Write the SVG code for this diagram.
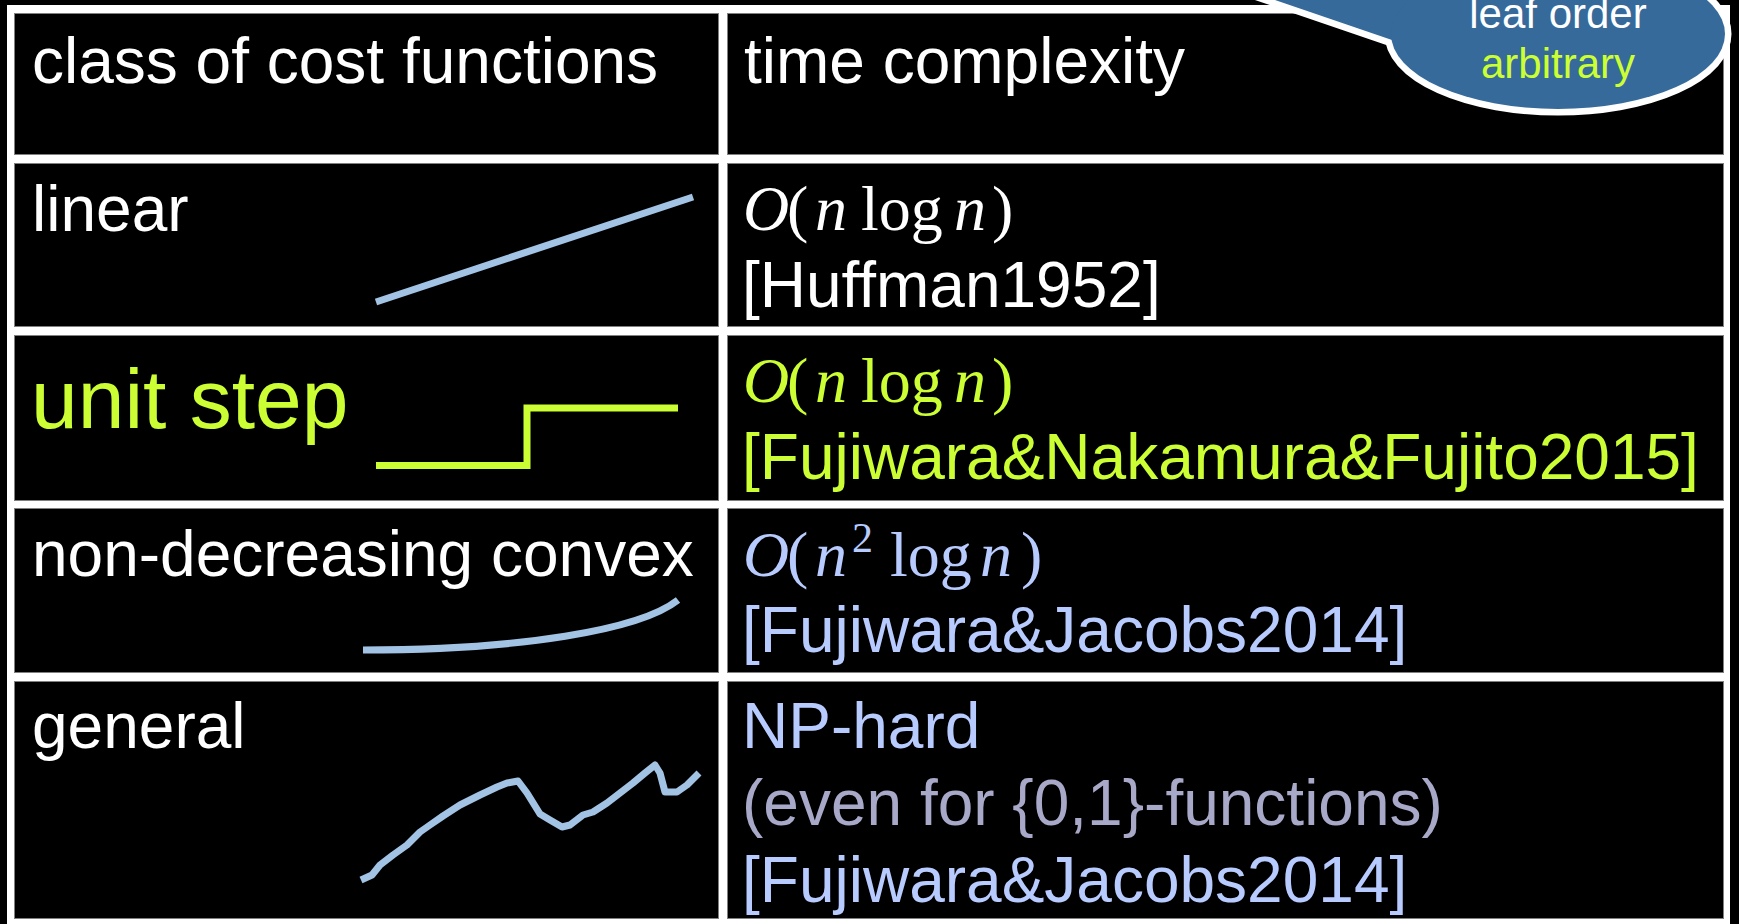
<svg xmlns="http://www.w3.org/2000/svg" width="1739" height="924" viewBox="0 0 1739 924">
  <style>
    .t{font-family:"Liberation Sans",Arial,sans-serif;font-size:64px}
    .m{font-family:"Liberation Serif","DejaVu Serif",serif;font-size:64px}
    .sup{font-family:"Liberation Serif","DejaVu Serif",serif;font-size:42px}
    .c{font-family:"Liberation Sans",Arial,sans-serif;font-size:42px;text-anchor:middle}
    .i{font-style:italic}
    .w{fill:#ffffff}
    .y{fill:#ccff33}
    .b{fill:#b8cbff}
    .g{fill:#a8a8c8}
    .cell{fill:#000000;stroke:#808080;stroke-width:1}
    .curve{fill:none;stroke:#a2c3e3;stroke-width:7;stroke-linejoin:round}
    .step{fill:none;stroke:#ccff33;stroke-width:7}
  </style>

  <!-- page background and table frame (white grid lines show between cells) -->
  <rect x="0" y="0" width="1739" height="924" fill="#000000"/>
  <rect x="7" y="5" width="1723" height="922" fill="#ffffff"/>

  <!-- header row -->
  <g id="head-class">
    <rect class="cell" x="14.5" y="13.5" width="704" height="141"/>
    <text class="t w" x="32" y="83">class of cost functions</text>
  </g>
  <g id="head-time">
    <rect class="cell" x="727.5" y="13.5" width="996" height="141"/>
    <text class="t w" x="744" y="83">time complexity</text>
  </g>

  <!-- linear -->
  <g id="row-linear">
    <rect class="cell" x="14.5" y="163.5" width="704" height="163"/>
    <text class="t w" x="32" y="231">linear</text>
    <line class="curve" x1="376" y1="302" x2="693" y2="197"/>
  </g>
  <g id="cx-linear">
    <rect class="cell" x="727.5" y="163.5" width="996" height="163"/>
    <text class="m w" y="230"><tspan class="i" x="743">O</tspan><tspan x="787">(</tspan><tspan class="i" x="815">n</tspan><tspan x="861">log</tspan><tspan class="i" x="954">n</tspan><tspan x="992">)</tspan></text>
    <text class="t w" x="742" y="307">[Huffman1952]</text>
  </g>

  <!-- unit step -->
  <g id="row-step">
    <rect class="cell" x="14.5" y="335.5" width="704" height="165"/>
    <text class="t y" x="31" y="428" style="font-size:84px">unit step</text>
    <polyline class="step" points="376,465.5 527,465.5 527,408 678,408"/>
  </g>
  <g id="cx-step">
    <rect class="cell" x="727.5" y="335.5" width="996" height="165"/>
    <text class="m y" y="402"><tspan class="i" x="743">O</tspan><tspan x="787">(</tspan><tspan class="i" x="815">n</tspan><tspan x="861">log</tspan><tspan class="i" x="954">n</tspan><tspan x="992">)</tspan></text>
    <text class="t y" x="742" y="479">[Fujiwara&amp;Nakamura&amp;Fujito2015]</text>
  </g>

  <!-- non-decreasing convex -->
  <g id="row-convex">
    <rect class="cell" x="14.5" y="508.5" width="704" height="164"/>
    <text class="t w" x="32" y="576">non-decreasing convex</text>
    <path class="curve" d="M363,650 C520,650 640,630 678,600"/>
  </g>
  <g id="cx-convex">
    <rect class="cell" x="727.5" y="508.5" width="996" height="164"/>
    <text class="m b" y="576"><tspan class="i" x="743">O</tspan><tspan x="787">(</tspan><tspan class="i" x="815">n</tspan><tspan class="sup" x="852" dy="-24">2</tspan><tspan x="890" dy="24">log</tspan><tspan class="i" x="980">n</tspan><tspan x="1021">)</tspan></text>
    <text class="t b" x="742" y="652">[Fujiwara&amp;Jacobs2014]</text>
  </g>

  <!-- general -->
  <g id="row-general">
    <rect class="cell" x="14.5" y="681.5" width="704" height="237"/>
    <text class="t w" x="32" y="748">general</text>
    <polyline class="curve" points="361,880 372,875 380,865 393,855 407,845 420,832 430,825 443,816 460,805 480,795 497,787 507,783 518,781 527,793 540,814 550,820 562,827 570,825 583,815 593,812 607,803 620,793 633,783 645,773 655,765 660,773 665,792 677,792 687,785 699,773"/>
  </g>
  <g id="cx-general">
    <rect class="cell" x="727.5" y="681.5" width="996" height="237"/>
    <text class="t b" x="742" y="748">NP-hard</text>
    <text class="t g" x="742" y="825">(even for {0,1}-functions)</text>
    <text class="t b" x="742" y="902">[Fujiwara&amp;Jacobs2014]</text>
  </g>

  <!-- speech-bubble note in the top-right corner: outline drawn first, fill on top -->
  <g id="note">
    <polygon points="1000,-94 1392,40 1450,-40" fill="none" stroke="#ffffff" stroke-width="13" stroke-linejoin="round"/>
    <ellipse cx="1558" cy="34" rx="167" ry="75" fill="none" stroke="#ffffff" stroke-width="13"/>
    <polygon points="1000,-94 1392,40 1450,-40" fill="#356a9b"/>
    <ellipse cx="1558" cy="34" rx="167" ry="75" fill="#356a9b"/>
    <text class="c w" x="1558" y="28">leaf order</text>
    <text class="c y" x="1558" y="78">arbitrary</text>
  </g>
</svg>
